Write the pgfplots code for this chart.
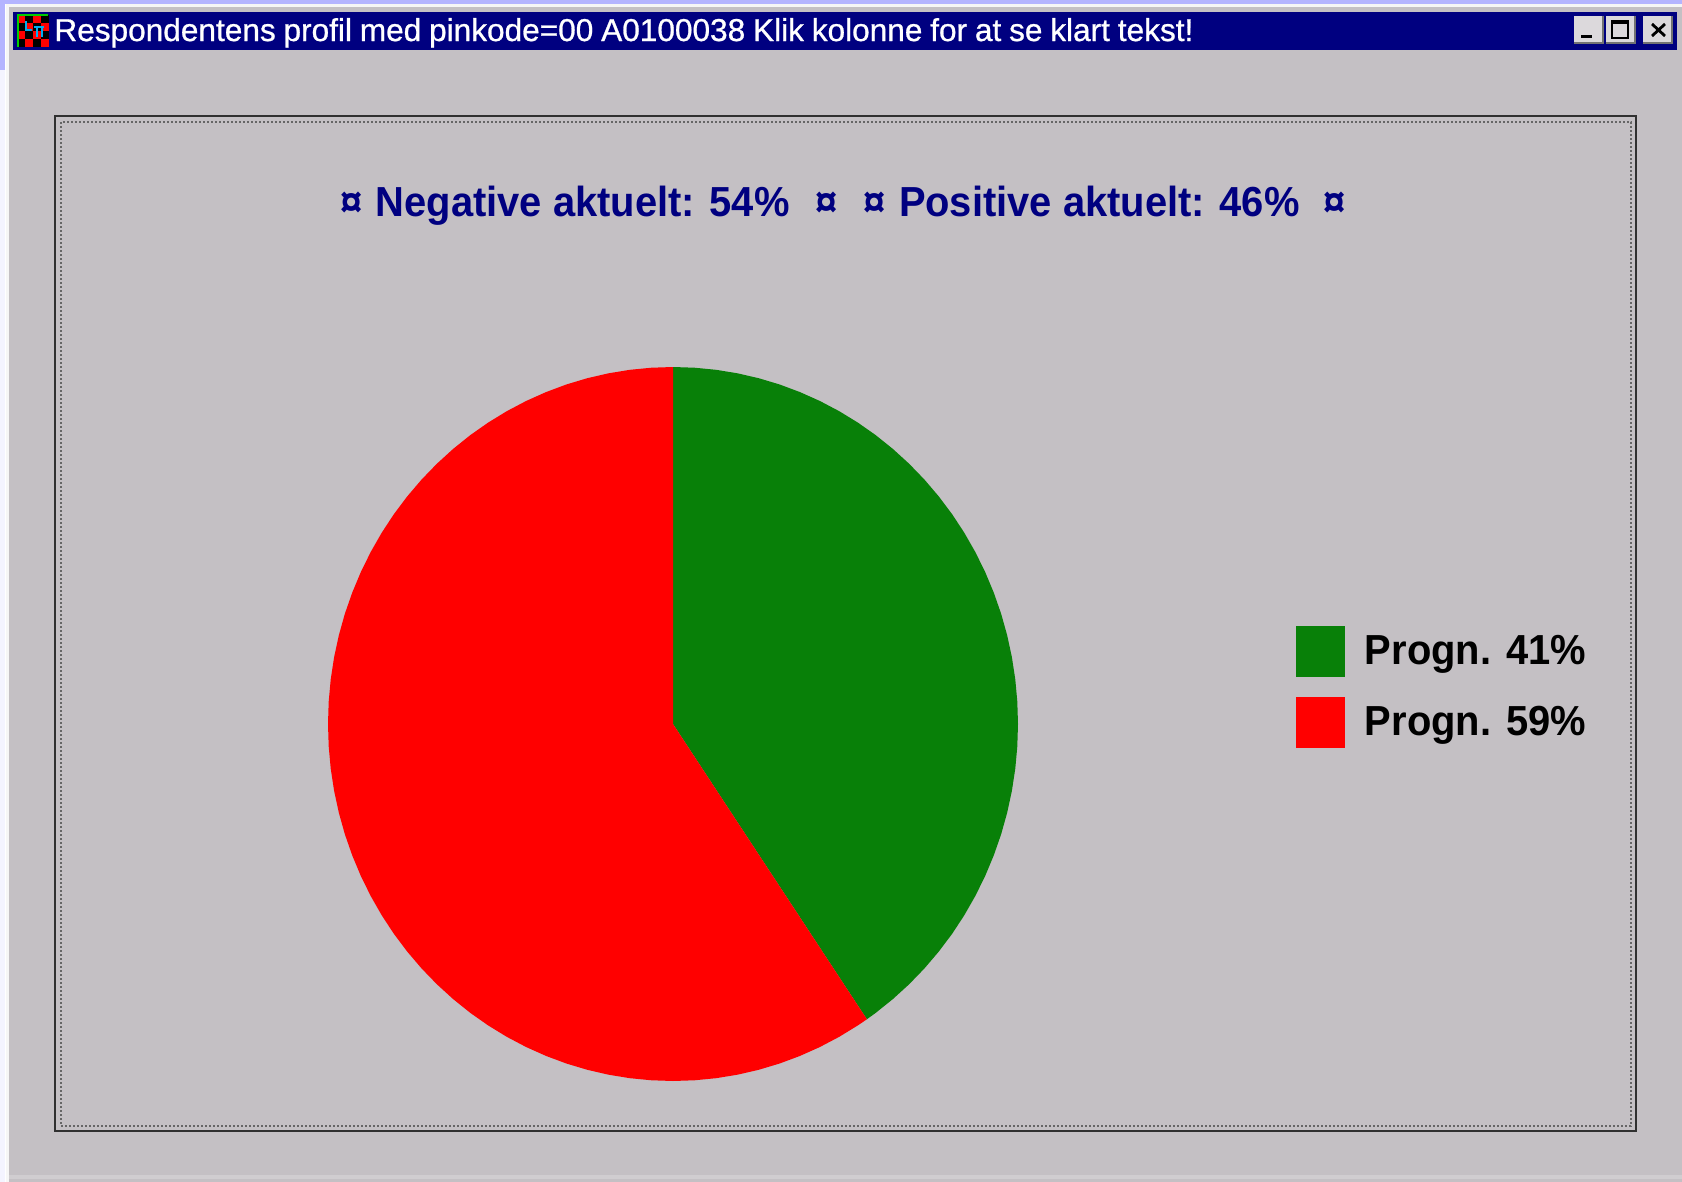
\documentclass[border=0pt]{standalone}
\usepackage{pgfplots}
\pgfplotsset{compat=1.18}
\usepackage{fontspec}
\setmainfont{Liberation Sans}
\newfontfamily\headfont[WordSpace=1,FakeStretch=0.95]{Liberation Sans Bold}
\newfontfamily\barfont[WordSpace=0.89,FakeBold=0.8]{Liberation Sans}
\definecolor{winbg}{HTML}{C4C0C4}
\definecolor{lav}{HTML}{B4B4FF}
\definecolor{pgreen}{HTML}{088008}
\definecolor{pred}{HTML}{FF0000}
\definecolor{tnavy}{HTML}{000080}
\definecolor{framedk}{HTML}{303030}
\pgfplotsset{
  slice/.style={draw=none,
    legend image code/.code={\path[##1] (0pt,-12.75pt) rectangle (24.7pt,12.75pt);}},
}
\begin{document}
\begin{tikzpicture}[x=1pt,y=1pt]
\begin{axis}[
  width=841pt, height=591pt, scale only axis,
  xmin=0, xmax=1682, ymin=0, ymax=1182, y dir=reverse,
  axis lines=none, clip=false, ticks=none,
  legend cell align=left,
  legend style={draw=none, fill=none, at={(axis cs:1295.5,625.5)}, anchor=north west,
    font=\fontsize{21}{25}\headfont, row sep=10pt, inner sep=0pt,
    nodes={inner sep=3pt},
    /tikz/every odd column/.append style={column sep=6.8pt}},
]
% window background
\fill[white] (axis cs:0,0) rectangle (axis cs:1682,1182);
\fill[lav] (axis cs:0,0) rectangle (axis cs:1682,4);
\fill[lav] (axis cs:0,0) rectangle (axis cs:5,70);
\fill[white!85!lav] (axis cs:0,70) rectangle (axis cs:5,1182);
\fill[white!85!winbg] (axis cs:6,4) rectangle (axis cs:1682,1182);
\fill[winbg] (axis cs:9,7) rectangle (axis cs:1682,1182);
\fill[white!20!winbg] (axis cs:9,1175) rectangle (axis cs:1682,1179);
% title bar
\fill[tnavy] (axis cs:13,12) rectangle (axis cs:1677,50);
\fill[black] (axis cs:17,15) rectangle (axis cs:49,47);
\foreach \cx in {0,...,3}{\foreach \cy in {0,...,3}{
  \pgfmathparse{int(mod(\cx+\cy,2))}
  \ifnum\pgfmathresult=0
    \edef\tmp{\noexpand\fill[pred] (axis cs:{17+8*\cx},{15+8*\cy}) rectangle (axis cs:{25+8*\cx},{23+8*\cy});}\tmp
  \fi
}}
\draw[cyan,line width=1pt] (axis cs:26,21) -- (axis cs:26,30) -- (axis cs:32,30)
  (axis cs:34,27) -- (axis cs:44,27) (axis cs:37,27) -- (axis cs:37,37) (axis cs:42,27) -- (axis cs:42,37);
\draw[green!80!black,line width=.7pt] (axis cs:18,47) -- (axis cs:18,15) -- (axis cs:48,15);
\node[anchor=base west,inner sep=0pt,text=white] at (axis cs:54,41)
  {\fontsize{15.8}{18}\barfont Respondentens profil med pinkode=00 A0100038 Klik kolonne for at se klart tekst!};
% window buttons
\foreach \bx/\bw in {1574/30,1606/30,1643/30}{
  \edef\tmp{\noexpand\fill[black!55] (axis cs:\bx,16) rectangle (axis cs:{\bx+\bw},44);
    \noexpand\fill[winbg!60!white] (axis cs:\bx,16) rectangle (axis cs:{\bx+\bw-2},42);}\tmp
}
\fill[black] (axis cs:1581,35) rectangle (axis cs:1592,38);
\draw[black,line width=1pt] (axis cs:1612,21) rectangle (axis cs:1628,38);
\draw[black,line width=1pt] (axis cs:1612,23) -- (axis cs:1628,23);
\draw[black,line width=1.4pt] (axis cs:1652,24) -- (axis cs:1665,36) (axis cs:1665,24) -- (axis cs:1652,36);
% frames
\draw[framedk,line width=1pt] (axis cs:55,116) rectangle (axis cs:1636,1131);
\draw[black!60,line width=1pt,dash pattern=on 1pt off 1pt] (axis cs:61,122) rectangle (axis cs:1631,1126);
% heading
\node[anchor=base west,inner sep=0pt,text=tnavy] at (axis cs:340,216)
  {\fontsize{21}{25}\headfont ¤\hspace{1pt} Negative aktuelt: 54\%\hspace{13pt}¤\hspace{13pt}¤\hspace{1pt} Positive aktuelt: 46\%\hspace{12pt}¤};
% pie: row = percent position round the circle, r = 0 centre / 1 rim
\addplot[slice, fill=pgreen] table[row sep=\\,
  x expr={673+345*\thisrow{r}*sin(3.6*\thisrow{p})},
  y expr={724-357*\thisrow{r}*cos(3.6*\thisrow{p})}] {
p r\\ 0 0\\ 0 1\\ 1 1\\ 2 1\\ 3 1\\ 4 1\\ 5 1\\ 6 1\\ 7 1\\ 8 1\\ 9 1\\ 10 1\\
11 1\\ 12 1\\ 13 1\\ 14 1\\ 15 1\\ 16 1\\ 17 1\\ 18 1\\ 19 1\\ 20 1\\
21 1\\ 22 1\\ 23 1\\ 24 1\\ 25 1\\ 26 1\\ 27 1\\ 28 1\\ 29 1\\ 30 1\\
31 1\\ 32 1\\ 33 1\\ 34 1\\ 35 1\\ 36 1\\ 37 1\\ 38 1\\ 39 1\\ 40 1\\ 40.5 1\\ 40.5 0\\
};
\addlegendentry{Progn. 41\%}
\addplot[slice, fill=pred] table[row sep=\\,
  x expr={673+345*\thisrow{r}*sin(3.6*\thisrow{p})},
  y expr={724-357*\thisrow{r}*cos(3.6*\thisrow{p})}] {
p r\\ 40.5 0\\ 40.5 1\\ 41 1\\ 42 1\\ 43 1\\ 44 1\\ 45 1\\ 46 1\\ 47 1\\ 48 1\\ 49 1\\ 50 1\\
51 1\\ 52 1\\ 53 1\\ 54 1\\ 55 1\\ 56 1\\ 57 1\\ 58 1\\ 59 1\\ 60 1\\
61 1\\ 62 1\\ 63 1\\ 64 1\\ 65 1\\ 66 1\\ 67 1\\ 68 1\\ 69 1\\ 70 1\\
71 1\\ 72 1\\ 73 1\\ 74 1\\ 75 1\\ 76 1\\ 77 1\\ 78 1\\ 79 1\\ 80 1\\
81 1\\ 82 1\\ 83 1\\ 84 1\\ 85 1\\ 86 1\\ 87 1\\ 88 1\\ 89 1\\ 90 1\\
91 1\\ 92 1\\ 93 1\\ 94 1\\ 95 1\\ 96 1\\ 97 1\\ 98 1\\ 99 1\\ 100 1\\ 100 0\\
};
\addlegendentry{Progn. 59\%}
\end{axis}
\end{tikzpicture}
\end{document}
